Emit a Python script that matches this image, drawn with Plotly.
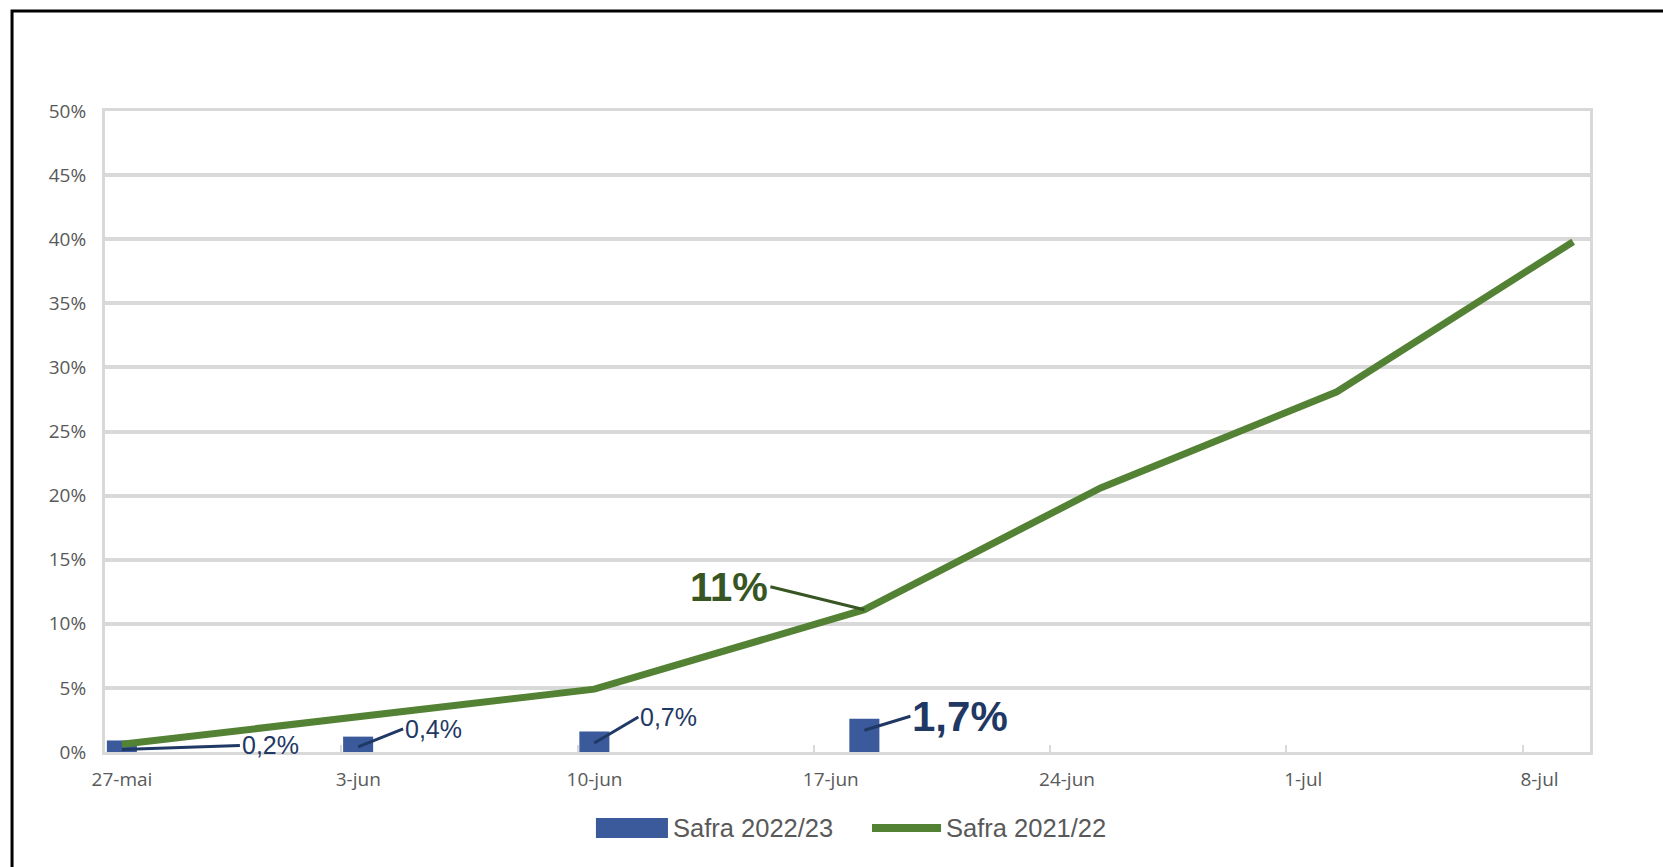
import pandas as pd
import plotly.graph_objects as go

# ---- data ----
tick_dates = ["2022-05-27", "2022-06-03", "2022-06-10", "2022-06-17",
              "2022-06-24", "2022-07-01", "2022-07-08"]
tick_text = ["27-mai", "3-jun", "10-jun", "17-jun", "24-jun", "1-jul", "8-jul"]

bar_dates = ["2022-05-27", "2022-06-03", "2022-06-10", "2022-06-18"]
bar_heights = [0.9, 1.2, 1.6, 2.6]          # drawn heights (%) as in the picture
bar_values = [0.2, 0.4, 0.7, 1.7]           # labelled values (%)
bar_labels = ["0,2%", "0,4%", "0,7%", "1,7%"]

line_dates = ["2022-05-27", "2022-06-10", "2022-06-18", "2022-06-25",
              "2022-07-02", "2022-07-09"]
line_values = [0.6, 4.9, 11.1, 20.6, 28.1, 39.8]
line_label_index = 2
line_label = "11%"

y_ticks = [0, 5, 10, 15, 20, 25, 30, 35, 40, 45, 50]
y_tick_text = ["%d%%" % v for v in y_ticks]

series_names = ["Safra 2022/23", "Safra 2021/22"]

# ---- styles ----
NAVY = "#1F3864"
BAR = "#3B5A9C"
GREEN = "#548235"
DKGREEN = "#375623"
GRID = "#D9D9D9"
TICKFONT = dict(family="Open Sans", size=19, color="#595959")
LEGFONT = dict(family="Liberation Sans", size=25.5, color="#595959")

fig = go.Figure()
fig.add_trace(go.Bar(
    x=bar_dates, y=bar_heights, name=series_names[0],
    marker=dict(color=BAR, line=dict(width=0)),
    width=0.89 * 86400000, hoverinfo="skip", showlegend=False,
))
fig.add_trace(go.Scatter(
    x=line_dates, y=line_values, name=series_names[1], mode="lines",
    line=dict(color=GREEN, width=7), hoverinfo="skip", showlegend=False,
))

tickvals = [(pd.Timestamp(d) - pd.Timedelta(hours=12)) for d in tick_dates]

# bar labels with leader lines
offsets = [(118, -4), (45, -18), (44, -26), (46, -14)]
for i, (d, v, t) in enumerate(zip(bar_dates, bar_values, bar_labels)):
    big = i == len(bar_labels) - 1
    fig.add_annotation(
        x=d, y=v, text=("<b>%s</b>" % t) if big else t,
        showarrow=True, arrowhead=0, arrowwidth=3, arrowcolor=NAVY,
        ax=offsets[i][0], ay=offsets[i][1], xanchor="left", yanchor="middle",
        standoff=0,
        font=dict(family="Liberation Sans", size=42 if big else 25, color=NAVY),
    )

fig.add_annotation(
    x=line_dates[line_label_index], y=line_values[line_label_index],
    text="<b>%s</b>" % line_label,
    showarrow=True, arrowhead=0, arrowwidth=3, arrowcolor=DKGREEN,
    ax=-94, ay=-23, xanchor="right", yanchor="middle", standoff=0,
    font=dict(family="Liberation Sans", size=40, color=DKGREEN),
)

# legend (drawn below the plot, Excel style with long swatches)
fig.add_shape(type="rect", xref="paper", yref="paper",
              x0=0.3306, x1=0.3791, y0=-0.1343, y1=-0.1030,
              fillcolor=BAR, line=dict(width=0))
fig.add_annotation(xref="paper", yref="paper", x=0.3811, y=-0.1187,
                   text=series_names[0], showarrow=False,
                   xanchor="left", yanchor="middle", font=LEGFONT)
fig.add_shape(type="line", xref="paper", yref="paper",
              x0=0.5165, x1=0.5630, y0=-0.1187, y1=-0.1187,
              line=dict(color=GREEN, width=8))
fig.add_annotation(xref="paper", yref="paper", x=0.5650, y=-0.1187,
                   text=series_names[1], showarrow=False,
                   xanchor="left", yanchor="middle", font=LEGFONT)

# outer frame
fig.add_shape(type="rect", xref="paper", yref="paper",
              x0=-0.0626, x1=1.06, y0=-0.25, y1=1.156,
              line=dict(color="black", width=3), layer="above")

fig.update_layout(
    width=1663, height=867,
    margin=dict(l=105, r=73, t=111, b=115),
    paper_bgcolor="white", plot_bgcolor="white",
    barmode="overlay",
    showlegend=False,
    xaxis=dict(
        type="date",
        range=["2022-05-26 12:00", "2022-07-09 12:00"],
        tickmode="array", tickvals=tickvals, ticktext=tick_text,
        ticklabelshift=17, ticklabelstandoff=8,
        ticks="inside", ticklen=7, tickwidth=2, tickcolor=GRID,
        showgrid=False, showline=True, linecolor=GRID, linewidth=3, mirror=True,
        tickfont=TICKFONT, zeroline=False,
    ),
    yaxis=dict(
        range=[0, 50], tickmode="array", tickvals=y_ticks, ticktext=y_tick_text,
        showgrid=True, gridcolor=GRID, gridwidth=4,
        showline=True, linecolor=GRID, linewidth=3, mirror=True,
        ticks="", tickfont=TICKFONT, zeroline=False, ticklabelstandoff=12,
    ),
)

fig.write_html("out.html", config={"displayModeBar": False},
               post_script="document.body.style.margin='0';document.body.style.overflow='hidden';")
